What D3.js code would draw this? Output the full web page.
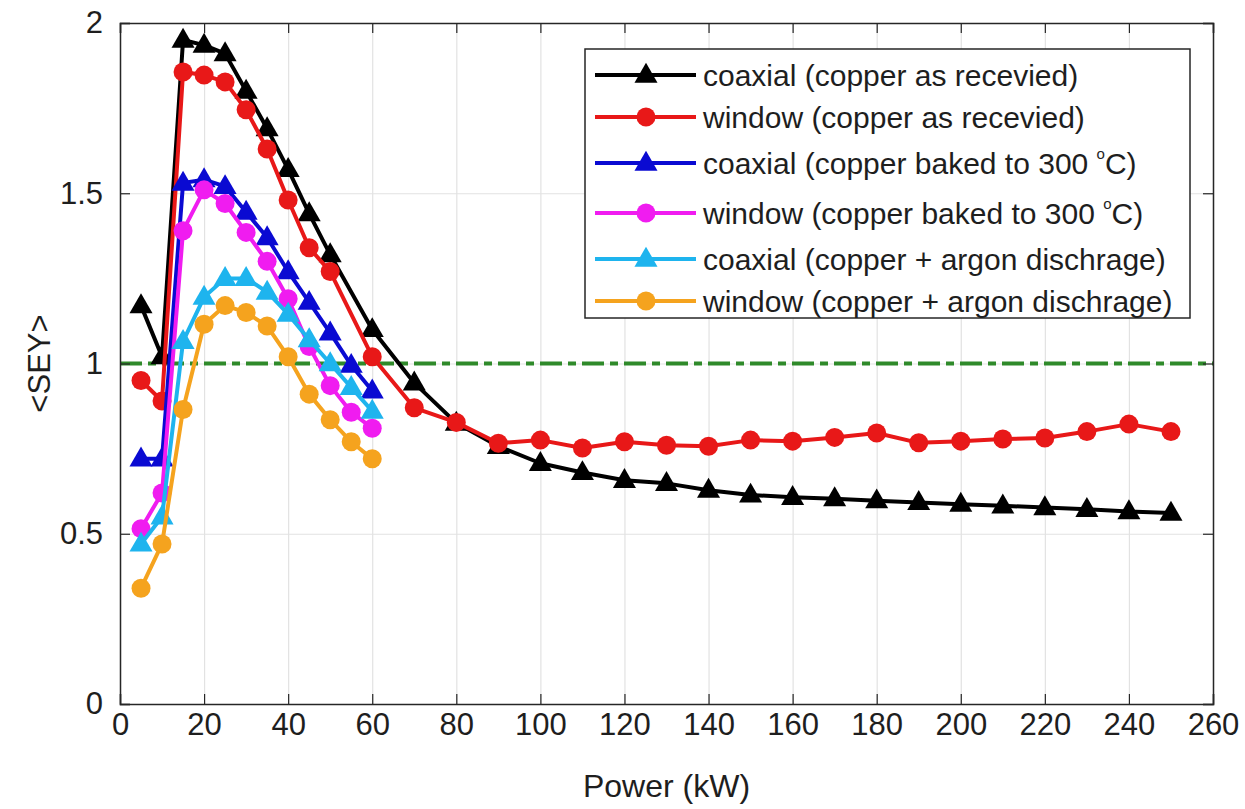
<!DOCTYPE html>
<html lang="en">
  <head>
    <meta charset="utf-8">
    <title>SEY vs Power</title>
    <script src="https://d3js.org/d3.v7.min.js"></script>
    <style>
      body { margin: 0; background: #fff; }
      text { font-family: "Liberation Sans", Arial, sans-serif; fill: #1e1e1e; }
    </style>
  </head>
  <body>
    <script>
      // powers (kW) used by the two "as received" runs and by the short runs
      var powerLong = [5, 10, 15, 20, 25, 30, 35, 40, 45, 50, 60, 70, 80, 90, 100, 110, 120, 130,
                       140, 150, 160, 170, 180, 190, 200, 210, 220, 230, 240, 250];
      var powerShort = [5, 10, 15, 20, 25, 30, 35, 40, 45, 50, 55, 60];

      var coaxReceived = [1.17, 1.02, 1.95, 1.935, 1.91, 1.80, 1.69, 1.57, 1.44, 1.32, 1.10, 0.943,
                          0.825, 0.757, 0.707, 0.68, 0.657, 0.648, 0.628, 0.614, 0.607, 0.603, 0.597,
                          0.592, 0.587, 0.582, 0.577, 0.572, 0.565, 0.561];
      var windowReceived = [0.95, 0.89, 1.856, 1.847, 1.827, 1.745, 1.63, 1.48, 1.34, 1.27, 1.02, 0.87,
                            0.827, 0.766, 0.775, 0.752, 0.77, 0.76, 0.757, 0.775, 0.772, 0.783, 0.796,
                            0.767, 0.772, 0.778, 0.781, 0.80, 0.822, 0.80];
      var coaxBaked = [0.72, 0.72, 1.53, 1.54, 1.52, 1.445, 1.37, 1.27, 1.18, 1.09, 0.995, 0.92];
      var windowBaked = [0.515, 0.62, 1.39, 1.51, 1.47, 1.385, 1.30, 1.19, 1.05, 0.935, 0.857, 0.81];
      var coaxArgon = [0.47, 0.55, 1.065, 1.195, 1.25, 1.25, 1.21, 1.145, 1.07, 1.00, 0.93, 0.86];
      var windowArgon = [0.34, 0.47, 0.865, 1.115, 1.17, 1.15, 1.11, 1.02, 0.91, 0.835, 0.77, 0.72];

      var xTicks = [0, 20, 40, 60, 80, 100, 120, 140, 160, 180, 200, 220, 240, 260];
      var yTicks = [0, 0.5, 1, 1.5, 2];
      var threshold = 1;

      var series = [
        {name: "coaxial (copper as recevied)", x: powerLong, y: coaxReceived, color: "#000000", marker: "tri"},
        {name: "window (copper as recevied)", x: powerLong, y: windowReceived, color: "#e81818", marker: "dot"},
        {name: "coaxial (copper baked to 300 ", sup: true, x: powerShort, y: coaxBaked, color: "#0a0ad2", marker: "tri"},
        {name: "window (copper baked to 300 ", sup: true, x: powerShort, y: windowBaked, color: "#f01cf0", marker: "dot"},
        {name: "coaxial (copper + argon dischrage)", x: powerShort, y: coaxArgon, color: "#1eb4ee", marker: "tri"},
        {name: "window (copper + argon dischrage)", x: powerShort, y: windowArgon, color: "#f5a31e", marker: "dot"}
      ];

      var width = 1245;
      var height = 809;
      var plot = {left: 120, right: 1213, top: 23, bottom: 704};

      var svg = d3.select("body")
        .append("svg")
        .attr("width", width)
        .attr("height", height);

      var x = d3.scaleLinear().domain([0, 260]).range([plot.left, plot.right]);
      var y = d3.scaleLinear().domain([0, 2]).range([plot.bottom, plot.top]);

      // grid
      svg.append("g")
        .attr("transform", `translate(0,${plot.bottom})`)
        .call(d3.axisBottom(x).tickValues(xTicks).tickSize(-(plot.bottom - plot.top)).tickFormat(""))
        .call(g => g.select(".domain").remove())
        .selectAll("line").attr("stroke", "#e2e2e2").attr("stroke-width", 1.2);
      svg.append("g")
        .attr("transform", `translate(${plot.left},0)`)
        .call(d3.axisLeft(y).tickValues(yTicks).tickSize(-(plot.right - plot.left)).tickFormat(""))
        .call(g => g.select(".domain").remove())
        .selectAll("line").attr("stroke", "#e2e2e2").attr("stroke-width", 1.2);

      // threshold line at SEY = 1
      svg.append("line")
        .attr("x1", plot.left).attr("x2", plot.right)
        .attr("y1", y(threshold)).attr("y2", y(threshold))
        .attr("stroke", "#2f8a2a")
        .attr("stroke-width", 4)
        .attr("stroke-dasharray", "22,6,8,6");

      var line = d3.line();
      var tri = d3.symbol().type(d3.symbolTriangle).size(230);

      series.forEach(function(s) {
        var pts = s.x.map(function(p, i) { return [x(p), y(s.y[i])]; });
        svg.append("path")
          .attr("d", line(pts))
          .attr("fill", "none")
          .attr("stroke", s.color)
          .attr("stroke-width", 4)
          .attr("stroke-linejoin", "round");
        var g = svg.append("g");
        pts.forEach(function(p) {
          if (s.marker == "tri") {
            g.append("path")
              .attr("d", tri())
              .attr("transform", `translate(${p[0]},${p[1] + 1})`)
              .attr("fill", s.color);
          } else {
            g.append("circle")
              .attr("cx", p[0]).attr("cy", p[1]).attr("r", 9.5)
              .attr("fill", s.color);
          }
        });
      });

      // axes with inward ticks on all four sides
      svg.append("g")
        .attr("transform", `translate(0,${plot.bottom})`)
        .call(d3.axisBottom(x).tickValues(xTicks).tickSize(-10).tickPadding(9));
      svg.append("g")
        .attr("transform", `translate(0,${plot.top})`)
        .call(d3.axisTop(x).tickValues(xTicks).tickSize(-10).tickFormat(""));
      svg.append("g")
        .attr("transform", `translate(${plot.left},0)`)
        .call(d3.axisLeft(y).tickValues(yTicks).tickSize(-10).tickPadding(17).tickFormat(d3.format("")));
      svg.append("g")
        .attr("transform", `translate(${plot.right},0)`)
        .call(d3.axisRight(y).tickValues(yTicks).tickSize(-10).tickFormat(""));

      svg.selectAll(".domain").attr("stroke", "#262626").attr("stroke-width", 1.5);
      svg.selectAll(".tick line").filter(function() { return d3.select(this).attr("stroke") == "currentColor"; })
        .attr("stroke", "#262626").attr("stroke-width", 1.2);
      svg.selectAll(".tick text").attr("font-size", 31).attr("fill", "#1e1e1e")
        .style("font-family", "'Liberation Sans', Arial, sans-serif");

      svg.append("text")
        .attr("x", x(130)).attr("y", 797)
        .attr("text-anchor", "middle")
        .attr("font-size", 32)
        .text("Power (kW)");
      svg.append("text")
        .attr("transform", `translate(50,${y(1)}) rotate(-90)`)
        .attr("text-anchor", "middle")
        .attr("font-size", 31)
        .text("<SEY>");

      // legend
      var legend = svg.append("g");
      legend.append("rect")
        .attr("x", 585).attr("y", 49)
        .attr("width", 605).attr("height", 269)
        .attr("fill", "#fff")
        .attr("stroke", "#262626")
        .attr("stroke-width", 1.5);
      var rowY = 75;
      series.forEach(function(s, i) {
        if (i > 0) rowY += 42 + (s.sup ? 4 : 0) + (series[i - 1].sup ? 4 : 0);
        var row = legend.append("g").attr("transform", `translate(0,${rowY})`);
        row.append("line")
          .attr("x1", 595).attr("x2", 696)
          .attr("stroke", s.color).attr("stroke-width", 4);
        if (s.marker == "tri") {
          row.append("path").attr("d", tri()).attr("transform", "translate(646,1)").attr("fill", s.color);
        } else {
          row.append("circle").attr("cx", 646).attr("r", 9.5).attr("fill", s.color);
        }
        var t = row.append("text")
          .attr("x", 703).attr("y", 11)
          .attr("font-size", 30)
          .text(s.name);
        if (s.sup) {
          t.append("tspan").attr("dy", -15).attr("font-size", 15).text("o");
          t.append("tspan").attr("dy", 15).text("C)");
        }
      });
    </script>
  </body>
</html>
